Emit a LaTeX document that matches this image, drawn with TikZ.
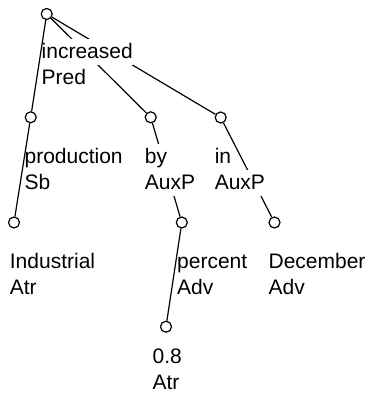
\documentclass[tikz,border=0pt]{standalone}
\usepackage{fontspec}
\setmainfont{Liberation Sans}
\begin{document}
\begin{tikzpicture}[x=1pt,y=-1pt,
  tnode/.style={circle,draw,line width=1.2pt,minimum size=11pt,inner sep=0pt},
  edge/.style={line width=1.2pt},
  lbl/.style={anchor=base west,fill=white,inner xsep=0pt,inner ysep=0pt,
    text height=19pt,text depth=7pt,font=\fontsize{21}{26}\selectfont}]
\useasboundingbox (0,0) rectangle (369,393);
% tree nodes
\node[tnode] (root) at (46.7,14) {};
\node[tnode] (prod) at (30.7,117.3) {};
\node[tnode] (by)   at (150.7,117.3) {};
\node[tnode] (in)   at (220.7,117.5) {};
\node[tnode] (ind)  at (14,222.5) {};
\node[tnode] (pct)  at (181.8,222.5) {};
\node[tnode] (dec)  at (274.5,222.5) {};
\node[tnode] (zero) at (166,326.7) {};
% edges hidden behind labels
\draw[edge] (root) -- (by);
\draw[edge] (root) -- (in);
\draw[edge] (by) -- (pct);
\draw[edge] (in) -- (dec);
% labels
\node[lbl] (root-a) at (41.5,58.3) {increased};
\node[lbl] (root-b) at (41.5,84.3) {Pred};
\node[lbl] (prod-a) at (24.4,163.3) {production};
\node[lbl] (prod-b) at (24.4,189.3) {Sb};
\node[lbl] (by-a) at (144.7,163.3) {by};
\node[lbl] (by-b) at (144.7,189.3) {AuxP};
\node[lbl] (in-a) at (214.6,163.3) {in};
\node[lbl] (in-b) at (214.6,189.3) {AuxP};
\node[lbl] (ind-a) at (9.7,268.3) {Industrial};
\node[lbl] (ind-b) at (9.7,294.3) {Atr};
\node[lbl] (pct-a) at (177,268.3) {percent};
\node[lbl] (pct-b) at (177,294.3) {Adv};
\node[lbl] (dec-a) at (268.4,268.3) {December};
\node[lbl] (dec-b) at (268.4,294.3) {Adv};
\node[lbl] (zero-a) at (152.4,363.3) {0.8};
\node[lbl] (zero-b) at (152.4,389.3) {Atr};
% edges passing beside labels
\draw[edge] (root) -- (prod);
\draw[edge] (prod) -- (ind);
\draw[edge] (pct) -- (zero);
\end{tikzpicture}
\end{document}
